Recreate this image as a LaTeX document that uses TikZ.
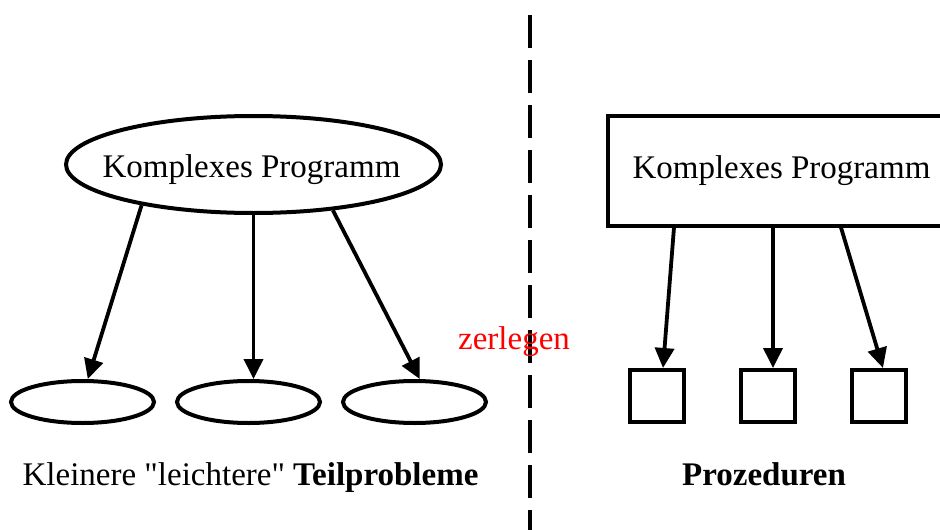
\documentclass[tikz,border=0pt]{standalone}
\usepackage{fontspec}
% straight double quotes are kept as typed
\setmainfont{Liberation Serif}[Ligatures=TeXOff]
\usetikzlibrary{arrows.meta,shapes.geometric}

\tikzset{
  lbl/.style={font=\fontsize{33}{40}\selectfont, inner sep=0pt, anchor=base},
  bigell/.style={draw, ellipse, line width=4pt, inner sep=0pt,
                 minimum width=375pt, minimum height=97pt},
  smallell/.style={draw, ellipse, line width=4pt, inner sep=0pt,
                   minimum width=143pt, minimum height=42pt},
  bigbox/.style={draw, rectangle, line width=4pt, inner sep=0pt,
                 minimum width=347pt, minimum height=110pt},
  smallbox/.style={draw, rectangle, line width=4pt, inner sep=0pt,
                   minimum width=54pt, minimum height=52pt},
  arr/.style={line width=3.8pt, -{Triangle[length=20pt,width=19pt]}},
  divider/.style={line width=4pt, dash pattern=on 33pt off 12pt}
}

\begin{document}
\begin{tikzpicture}[x=1pt, y=-1pt]
  \clip (0,0) rectangle (940,530);

  % left half: program split into smaller subproblems
  \node[bigell] (big) at (253.5,164.5) {};
  \node[lbl] (bigtxt) at (251.5,177.5) {Komplexes Programm};
  \node[smallell] (s1) at (82.5,402) {};
  \node[smallell] (s2) at (248.5,402) {};
  \node[smallell] (s3) at (414.5,402) {};
  \draw[arr] (big.200) -- (s1.77);
  \draw[arr] (big.south) -- (big.south |- s2.north);
  \draw[arr] (big.-30) -- (s3.77);
  \node[lbl] (lefttxt) at (250.5,485)
    {Kleinere "leichtere" \textbf{Teilprobleme}};

  % dividing line with the verb
  \coordinate (dtop) at (530,15);
  \coordinate (dbot) at (530,540);
  \draw[divider] (dtop) -- (dbot);
  \node[lbl, text=red] (zer) at (514,349) {zerlegen};

  % right half: program split into procedures
  \node[bigbox] (box) at (781.5,170.5) {};
  \node[lbl] (boxtxt) at (781.5,178) {Komplexes Programm};
  \node[smallbox] (q1) at (657,396) {};
  \node[smallbox] (q2) at (767.5,396) {};
  \node[smallbox] (q3) at (878.5,396) {};
  \draw[arr] ([xshift=-107.5pt]box.south) -- ([xshift=6pt]q1.north);
  \draw[arr] ([xshift=-8.5pt]box.south) -- ([xshift=5.5pt]q2.north);
  \draw[arr] ([xshift=59.5pt]box.south) -- ([xshift=4.5pt]q3.north);
  \node[lbl] (righttxt) at (764,485) {\textbf{Prozeduren}};
\end{tikzpicture}
\end{document}
